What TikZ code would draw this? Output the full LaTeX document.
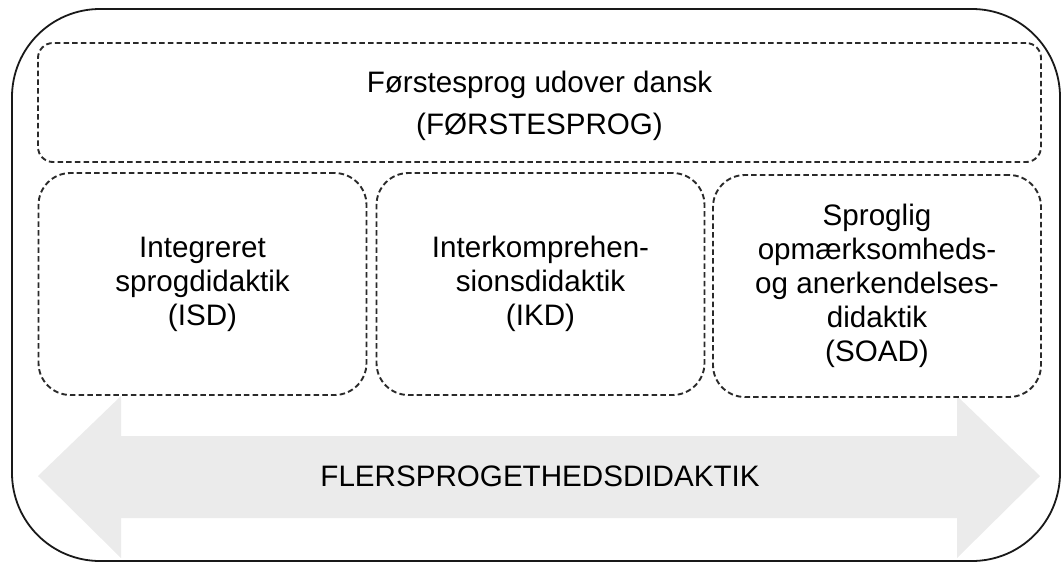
\documentclass[tikz,border=0pt]{standalone}
\usepackage{fontspec}
\setmainfont{Liberation Sans}
\definecolor{arrowgray}{HTML}{EBEBEB}
\definecolor{dashgray}{HTML}{2A2A2A}
\tikzset{
  outerbox/.style={draw=black!90, line width=1.8pt, rounded corners=88pt},
  dashbox/.style={draw=dashgray, line width=1.9pt, dash pattern=on 5.5pt off 3.2pt, align=center, inner sep=0pt},
  topbox/.style={dashbox, rounded corners=15pt, minimum width=1003pt, minimum height=119pt},
  toptext/.style={align=center, inner sep=0pt, font=\fontsize{29.6}{42}\selectfont},
  lowbox/.style={dashbox, rounded corners=32pt, minimum width=328pt, minimum height=222pt,
    font=\fontsize{29.6}{34}\selectfont},
  bigarrow/.style={fill=arrowgray, draw=none},
  arrowlabel/.style={font=\fontsize{29.6}{34}\selectfont, inner sep=0pt}
}
\begin{document}
\begin{tikzpicture}[x=1pt, y=-1pt]
\useasboundingbox (0,0) rectangle (1062,563);
% outer frame
\draw[outerbox] (12,9) rectangle (1060,561);
% double arrow
\path[bigarrow] (38,476) -- (121,396) -- (121,436) -- (957,436) -- (957,396) -- (1040,476)
  -- (957,558) -- (957,518) -- (121,518) -- (121,558) -- cycle;
\node[arrowlabel] (flers) at (540,476) {FLERSPROGETHEDSDIDAKTIK};
% top box
\node[topbox] (top) at (539.5,102.5) {};
\node[toptext] (toptxt) at (539.5,106) {Førstesprog udover dansk\\(FØRSTESPROG)};
% three lower boxes
\node[lowbox] (isd) at (202.5,284) {Integreret\\sprogdidaktik\\(ISD)};
\node[lowbox] (ikd) at (540.5,284) {Interkomprehen-\\sionsdidaktik\\(IKD)};
\node[lowbox] (soad) at (877,286) {Sproglig\\opmærksomheds-\\og anerkendelses-\\didaktik\\(SOAD)};
\end{tikzpicture}
\end{document}
